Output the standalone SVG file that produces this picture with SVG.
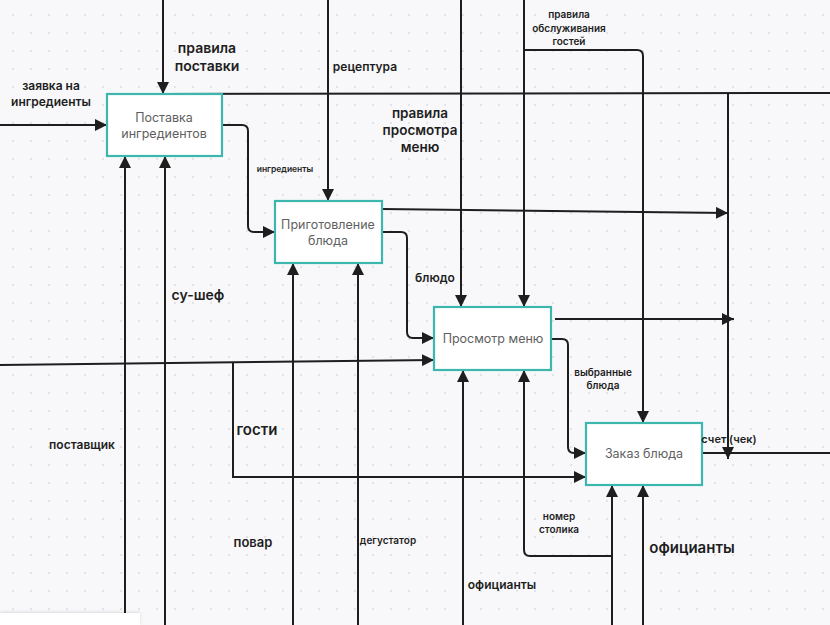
<svg xmlns="http://www.w3.org/2000/svg" width="830" height="625" viewBox="0 0 830 625">
<defs>
<pattern id="grid" x="4" y="6" width="18" height="18" patternUnits="userSpaceOnUse">
<circle cx="9" cy="9" r="0.9" fill="#d9dade"/>
</pattern>
<marker id="arr" markerUnits="userSpaceOnUse" markerWidth="12" markerHeight="12" viewBox="0 0 10 10" refX="10" refY="5" orient="auto">
<path d="M0,0 L10,5 L0,10 z" fill="#1e1e1e"/>
</marker>
<filter id="sh" x="-10%" y="-50%" width="120%" height="200%">
<feDropShadow dx="0" dy="-1" stdDeviation="1.5" flood-color="#000" flood-opacity="0.12"/>
</filter>
</defs>
<style>
.ln{fill:none;stroke:#1e1e1e;stroke-width:2}
.ar{marker-end:url(#arr)}
.box{fill:#ffffff;stroke:#3db7ae;stroke-width:2.2}
.bt{font-family:Inter,"Liberation Sans",sans-serif;font-size:12.5px;fill:#5f5f5f;text-anchor:middle}
.lb{font-family:Inter,"Liberation Sans",sans-serif;font-weight:600;fill:#1e1e1e;text-anchor:middle}
</style>
<rect x="0" y="0" width="830" height="625" fill="#f8f8fa"/>
<rect x="0" y="0" width="830" height="625" fill="url(#grid)"/>

<g id="connectors">
<path class="ln ar" d="M163,0 V94"/>
<path class="ln ar" d="M328,0 V201"/>
<path class="ln ar" d="M461,0 V307"/>
<path class="ln ar" d="M524,0 V307"/>
<path class="ln ar" d="M524,50 H637 Q643,50 643,56 V423"/>
<path class="ln" d="M163,94 L830,93"/>
<path class="ln ar" d="M728,93 V459"/>
<path class="ln ar" d="M382,209 L728,213"/>
<path class="ln ar" d="M555,319 H734"/>
<path class="ln" d="M702,453 H830"/>
<path class="ln ar" d="M0,125 H107"/>
<path class="ln ar" d="M222,125 H242 Q248,125 248,131 V226 Q248,232 254,232 H275"/>
<path class="ln ar" d="M382,232 H401 Q407,232 407,238 V332 Q407,338 413,338 H434"/>
<path class="ln ar" d="M0,365 L434,360"/>
<path class="ln ar" d="M233,362.6 V477 H586"/>
<path class="ln ar" d="M551,339 H562 Q568,339 568,345 V447 Q568,453 574,453 H586"/>
<path class="ln ar" d="M125,625 V156"/>
<path class="ln ar" d="M165,625 V156"/>
<path class="ln ar" d="M293,625 V263"/>
<path class="ln ar" d="M358,625 V263"/>
<path class="ln ar" d="M463,625 V370"/>
<path class="ln ar" d="M612,556 H530 Q524,556 524,550 V370"/>
<path class="ln ar" d="M612,625 V485"/>
<path class="ln ar" d="M643,625 V485"/>
</g>

<g id="node-postavka">
<rect class="box" x="107" y="94" width="115" height="62"/>
<text class="bt" x="164" y="122">Поставка</text>
<text class="bt" x="164" y="138">ингредиентов</text>
</g>
<g id="node-prigotovlenie">
<rect class="box" x="275" y="201" width="107" height="62"/>
<text class="bt" x="328" y="229">Приготовление</text>
<text class="bt" x="328" y="245">блюда</text>
</g>
<g id="node-prosmotr">
<rect class="box" x="434" y="307" width="117" height="63"/>
<text class="bt" x="493" y="343">Просмотр меню</text>
</g>
<g id="node-zakaz">
<rect class="box" x="586" y="423" width="116" height="62"/>
<text class="bt" x="644" y="458">Заказ блюда</text>
</g>

<g id="labels">
<text class="lb" font-size="14" x="207" y="53">правила</text>
<text class="lb" font-size="14" x="207" y="71">поставки</text>
<text class="lb" font-size="12" x="365" y="71">рецептура</text>
<text class="lb" font-size="12" x="51" y="90">заявка на</text>
<text class="lb" font-size="12" x="51" y="106">ингредиенты</text>
<text class="lb" font-size="8.5" x="285" y="172">ингредиенты</text>
<text class="lb" font-size="13.5" x="420" y="118">правила</text>
<text class="lb" font-size="13.5" x="420" y="135">просмотра</text>
<text class="lb" font-size="13.5" x="420" y="152">меню</text>
<text class="lb" font-size="10" x="569" y="18">правила</text>
<text class="lb" font-size="10" x="569" y="32">обслуживания</text>
<text class="lb" font-size="10" x="569" y="45">гостей</text>
<text class="lb" font-size="12" x="435" y="282">блюдо</text>
<text class="lb" font-size="10" x="603" y="376">выбранные</text>
<text class="lb" font-size="10" x="603" y="389">блюда</text>
<text class="lb" font-size="11" x="729" y="443">счет (чек)</text>
<text class="lb" font-size="10" x="559" y="520">номер</text>
<text class="lb" font-size="10" x="559" y="533">столика</text>
<text class="lb" font-size="15" x="692" y="553">официанты</text>
<text class="lb" font-size="12" x="502" y="589">официанты</text>
<text class="lb" font-size="10" x="388" y="544">дегустатор</text>
<text class="lb" font-size="13" x="253" y="547">повар</text>
<text class="lb" font-size="15" x="257" y="435">гости</text>
<text class="lb" font-size="12" x="82" y="449">поставщик</text>
<text class="lb" font-size="14" x="198" y="300">су-шеф</text>
</g>
<rect x="0" y="613" width="140" height="12" fill="#ffffff" filter="url(#sh)"/>
</svg>
